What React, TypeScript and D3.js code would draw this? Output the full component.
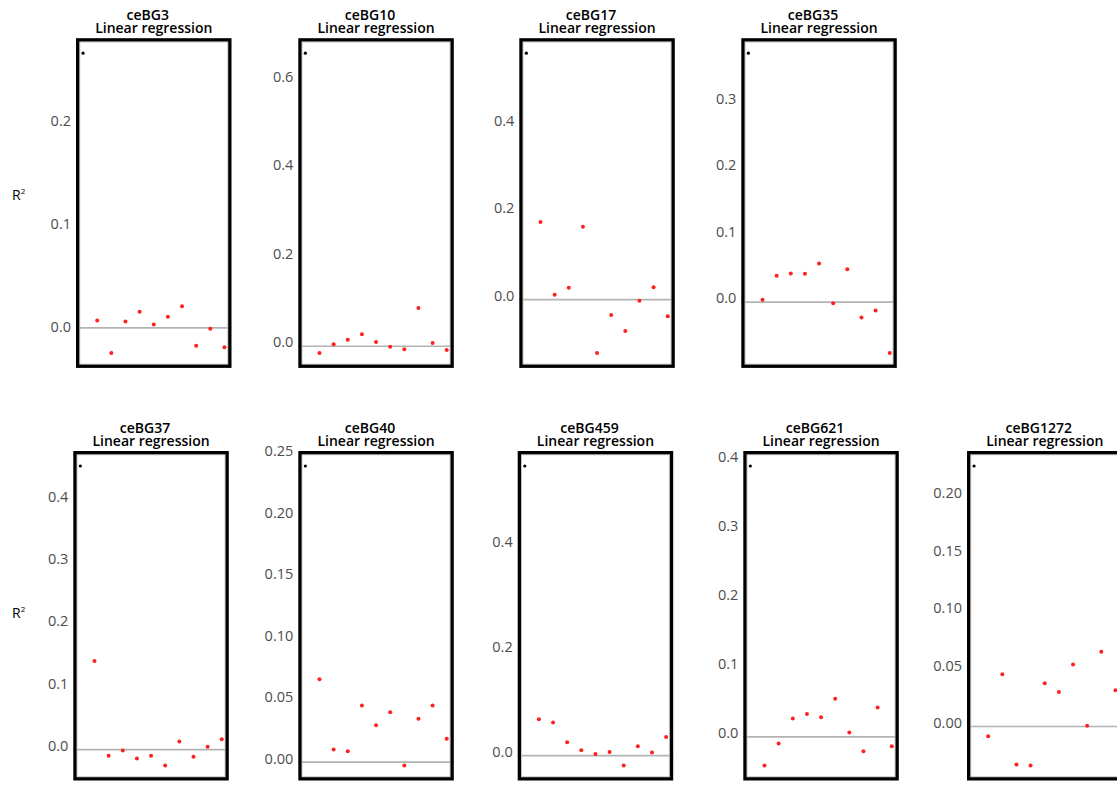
import React from "react";
import * as d3 from "d3";

// Gene panels, in reading order (top row first)
const genes = ["ceBG3", "ceBG10", "ceBG17", "ceBG35", "ceBG37", "ceBG40", "ceBG459", "ceBG621", "ceBG1272"];

// Observed R² (first, black point) per gene
const observed = [0.266, 0.653, 0.555, 0.369, 0.449, 0.238, 0.545, 0.387, 0.2235];

// Permuted R² values (red points) per gene
const permuted = [
  [0.0065, -0.025, 0.0055, 0.0149, 0.0026, 0.01, 0.0204, -0.018, -0.0016, -0.0194],
  [-0.024, -0.0045, 0.0059, 0.018, 0.0007, -0.01, -0.016, 0.0775, -0.0016, -0.0174],
  [0.168, 0.0014, 0.0174, 0.157, -0.132, -0.045, -0.082, -0.0124, 0.0184, -0.048],
  [-0.0035, 0.0328, 0.0363, 0.0358, 0.0514, -0.0085, 0.0429, -0.0302, -0.0197, -0.0836],
  [0.136, -0.016, -0.0075, -0.0204, -0.016, -0.0316, 0.0069, -0.0176, -0.0016, 0.0106],
  [0.0645, 0.0073, 0.0059, 0.0431, 0.0271, 0.0377, -0.0057, 0.0323, 0.0431, 0.016],
  [0.0629, 0.0566, 0.019, 0.0038, -0.0032, 0.0006, -0.0253, 0.0114, -0.0006, 0.0291],
  [-0.0469, -0.015, 0.0213, 0.0276, 0.0232, 0.0498, 0.001, -0.0261, 0.0373, -0.0189],
  [-0.0113, 0.0426, -0.0359, -0.0368, 0.0348, 0.027, 0.051, -0.0023, 0.0621, 0.0287],
];

// Horizontal reference line per panel
const refLine = [-0.0007, -0.009, -0.01, -0.007, -0.006, -0.003, -0.0063, -0.0053, -0.0029];

// Y tick values per panel
const yTicks = [
  [0, 0.1, 0.2],
  [0, 0.2, 0.4, 0.6],
  [0, 0.2, 0.4],
  [0, 0.1, 0.2, 0.3],
  [0, 0.1, 0.2, 0.3, 0.4],
  [0, 0.05, 0.1, 0.15, 0.2, 0.25],
  [0, 0.2, 0.4],
  [0, 0.1, 0.2, 0.3, 0.4],
  [0, 0.05, 0.1, 0.15, 0.2],
];
const tickDigits = [1, 1, 1, 1, 1, 2, 1, 1, 2];

const subtitle = "Linear regression";
const yTitle = "R";

// Layout
const W = 1117;
const H = 785;
const PANEL_W = 155.5;
const rows = [
  { top: 38.2, bottom: 367.9, lefts: [76, 298.3, 519.3, 741.3] },
  { top: 451, bottom: 780.5, lefts: [73.3, 298.3, 517.7, 743.3, 967] },
];
const FONT = "'Open Sans', 'Noto Sans', sans-serif";
const FRAME = 3.3;

function Panel({ idx, left, top, bottom }: { idx: number; left: number; top: number; bottom: number }) {
  const values = [observed[idx], ...permuted[idx]];
  const [lo, hi] = d3.extent(values) as [number, number];
  const pad = (hi - lo) * 0.05;
  const y = d3.scaleLinear().domain([lo - pad, hi + pad]).range([bottom, top]);
  const x = d3.scaleLinear().domain([0.5, values.length + 0.5]).range([left, left + PANEL_W]);
  const fmt = d3.format(`.${tickDigits[idx]}f`);
  const cx = left + PANEL_W / 2;
  return (
    <g>
      <text x={cx - 6} y={top - 18.5} textAnchor="middle" fontFamily={FONT} fontSize={14} fontWeight={600} fill="#000">
        {genes[idx]}
      </text>
      <text x={cx} y={top - 5} textAnchor="middle" fontFamily={FONT} fontSize={14} fontWeight={600} fill="#000">
        {subtitle}
      </text>
      <rect x={left} y={top} width={PANEL_W} height={bottom - top} fill="#fff" />
      <line x1={left} x2={left + PANEL_W} y1={y(refLine[idx])} y2={y(refLine[idx])} stroke="#b3b3b3" strokeWidth={1.7} />
      {values.map((v, i) => (
        <circle key={i} cx={x(i + 1)} cy={y(v)} r={i === 0 ? 1.6 : 2} fill={i === 0 ? "#000" : "#ff2020"} />
      ))}
      <rect
        x={left + FRAME + 0.5}
        y={top + FRAME + 0.5}
        width={PANEL_W - 2 * FRAME - 1}
        height={bottom - top - 2 * FRAME - 1}
        fill="none"
        stroke="#c8c8c8"
        strokeWidth={1}
      />
      <rect
        x={left + FRAME / 2}
        y={top + FRAME / 2}
        width={PANEL_W - FRAME}
        height={bottom - top - FRAME}
        fill="none"
        stroke="#000"
        strokeWidth={FRAME}
      />
      {yTicks[idx].map((t) => (
        <text
          key={t}
          x={left - 5}
          y={y(t) + 5.2}
          textAnchor="end"
          fontFamily={FONT}
          fontSize={14.5}
          fill="#4d4d4d"
        >
          {fmt(t)}
        </text>
      ))}
    </g>
  );
}

export default function App() {
  let k = 0;
  return (
    <svg
      width={W}
      height={H}
      viewBox={`0 0 ${W} ${H}`}
      style={{ position: "absolute", left: 0, top: 0, background: "#fff" }}
    >
      <rect width={W} height={H} fill="#fff" />
      {rows.map((row, r) => (
        <g key={r}>
          <text x={12} y={200 + r * 418} fontFamily={FONT} fontSize={14} fill="#000">
            {yTitle}
            <tspan fontSize={8} dy={-6}>2</tspan>
          </text>
          {row.lefts.map((left) => {
            const idx = k++;
            return <Panel key={idx} idx={idx} left={left} top={row.top} bottom={row.bottom} />;
          })}
        </g>
      ))}
    </svg>
  );
}
